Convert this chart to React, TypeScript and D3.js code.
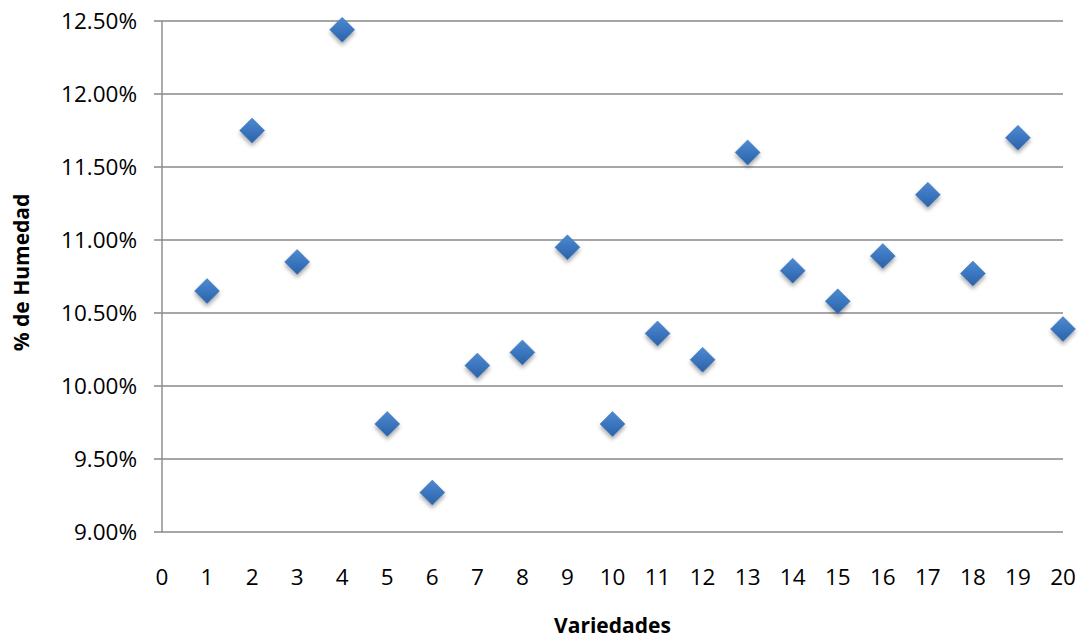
import React from "react";
import * as d3 from "d3";

const variedades = [1, 2, 3, 4, 5, 6, 7, 8, 9, 10, 11, 12, 13, 14, 15, 16, 17, 18, 19, 20];
const humedad = [10.65, 11.75, 10.85, 12.44, 9.74, 9.27, 10.14, 10.23, 10.95, 9.74, 10.36, 10.18, 11.6, 10.79, 10.58, 10.89, 11.31, 10.77, 11.7, 10.39];
const yTicks = [9.0, 9.5, 10.0, 10.5, 11.0, 11.5, 12.0, 12.5];
const xTicks = d3.range(0, 21);

const W = 1085;
const H = 639;
const font = "'Open Sans', 'Liberation Sans', sans-serif";

export default function App() {
  const x = d3.scaleLinear().domain([0, 20]).range([162, 1063]);
  const y = d3.scaleLinear().domain([9, 12.5]).range([532, 21]);
  const r = 12.5;
  const diamond = `M0,${-r}L${r},0L0,${r}L${-r},0Z`;
  const gridColor = "#898989";

  return (
    <svg
      width={W}
      height={H}
      style={{ position: "absolute", left: 0, top: 0, background: "#fff" }}
    >
      <defs>
        <linearGradient id="dg" x1="0" y1="0" x2="0" y2="1">
          <stop offset="0" stopColor="#4f8ad0" />
          <stop offset="0.5" stopColor="#3b76bf" />
          <stop offset="1" stopColor="#2c62a6" />
        </linearGradient>
        <filter id="sh" x="-50%" y="-50%" width="200%" height="220%">
          <feGaussianBlur in="SourceAlpha" stdDeviation="2" />
          <feOffset dx="0" dy="3" result="b" />
          <feComponentTransfer>
            <feFuncA type="linear" slope="0.35" />
          </feComponentTransfer>
          <feMerge>
            <feMergeNode />
            <feMergeNode in="SourceGraphic" />
          </feMerge>
        </filter>
      </defs>

      {yTicks.map((t) => (
        <line
          key={"g" + t}
          x1={154}
          x2={x(20)}
          y1={y(t)}
          y2={y(t)}
          stroke={gridColor}
          strokeWidth={1.4}
        />
      ))}
      <line x1={x(0)} x2={x(0)} y1={y(12.5)} y2={y(9)} stroke={gridColor} strokeWidth={1.4} />

      {yTicks.map((t) => (
        <text
          key={"yl" + t}
          x={137}
          y={y(t)}
          dy="0.35em"
          textAnchor="end"
          fontFamily={font}
          fontSize={22.5}
          fill="#000"
        >
          {t.toFixed(2) + "%"}
        </text>
      ))}

      {xTicks.map((t) => (
        <text
          key={"xl" + t}
          x={x(t)}
          y={577}
          dy="0.35em"
          textAnchor="middle"
          fontFamily={font}
          fontSize={22.5}
          fill="#000"
        >
          {t}
        </text>
      ))}

      {humedad.map((v, i) => (
        <path
          key={"p" + i}
          d={diamond}
          transform={`translate(${x(variedades[i])},${y(v)})`}
          fill="url(#dg)"
          stroke="#3a74bb"
          strokeWidth={0.5}
          filter="url(#sh)"
        />
      ))}

      <text
        x={(x(0) + x(20)) / 2}
        y={633}
        textAnchor="middle"
        fontFamily={font}
        fontWeight="bold"
        fontSize={21}
        fill="#000"
      >
        Variedades
      </text>
      <text
        transform={`translate(22,${(y(9) + y(12.5)) / 2 - 4}) rotate(-90)`}
        dy="0.35em"
        textAnchor="middle"
        fontFamily={font}
        fontWeight="bold"
        fontSize={21}
        fill="#000"
      >
        % de Humedad
      </text>
    </svg>
  );
}
